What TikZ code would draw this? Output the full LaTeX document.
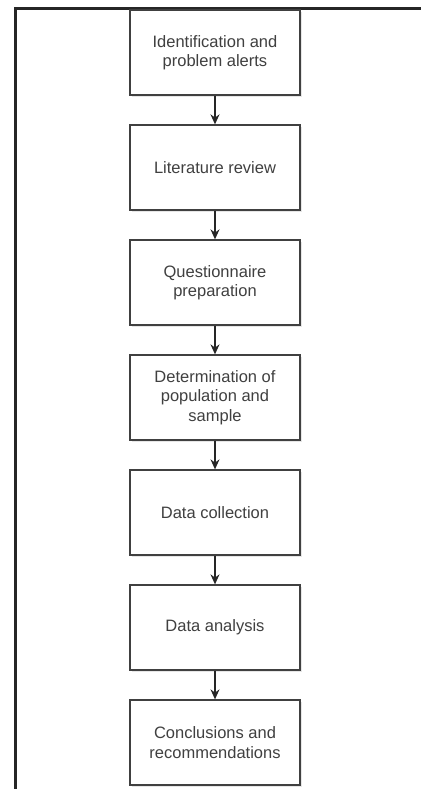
\documentclass[tikz,border=0pt]{standalone}
\usepackage{fontspec}
\setmainfont{Liberation Sans}
\usetikzlibrary{positioning, arrows.meta, shadows}

\begin{document}
\begin{tikzpicture}[x=1pt, y=1pt,
	stepbox/.style = {draw=black!75, line width=1.3pt, fill=white, minimum width=170pt, minimum height=85pt, align=center, text=black!75, font=\fontsize{16.5}{19.5}\selectfont, drop shadow={opacity=0.2, shadow xshift=2pt, shadow yshift=-2pt}},
	flow/.style = {-{Stealth[length=10pt, width=9pt]}, line width=1.3pt, draw=black!85}]
	\def\gap{28.7pt};

	\useasboundingbox (0,0) rectangle (421,-789);

	% frame
	\draw[line width=3pt, black!85] (15,-789) -- (15,-9) -- (421,-9);

	% steps
	\node[stepbox] (ident) at (215,-52.5) {Identification and\\problem alerts};
	\node[stepbox, below=\gap of ident] (litrev) {Literature review};
	\node[stepbox, below=\gap of litrev] (quest) {Questionnaire\\preparation};
	\node[stepbox, below=\gap of quest] (popsample) {Determination of\\population and\\sample};
	\node[stepbox, below=\gap of popsample] (datacoll) {Data collection};
	\node[stepbox, below=\gap of datacoll] (datanal) {Data analysis};
	\node[stepbox, below=\gap of datanal] (concl) {Conclusions and\\recommendations};

	% arrows
	\begin{scope}[flow]
		\draw (ident) -- (litrev);
		\draw (litrev) -- (quest);
		\draw (quest) -- (popsample);
		\draw (popsample) -- (datacoll);
		\draw (datacoll) -- (datanal);
		\draw (datanal) -- (concl);
	\end{scope}
\end{tikzpicture}
\end{document}
